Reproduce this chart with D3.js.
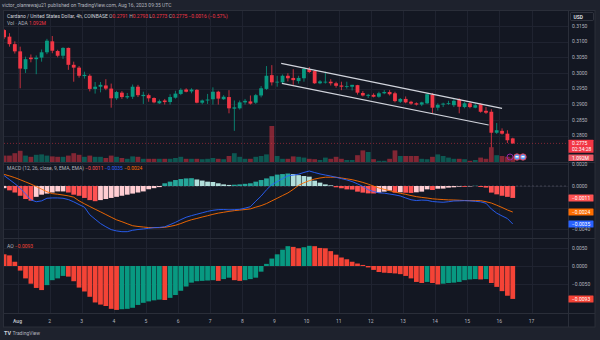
<!DOCTYPE html>
<html><head><meta charset="utf-8">
<script src="https://cdn.jsdelivr.net/npm/d3@7"></script>
<style>html,body{margin:0;background:#1e222d;overflow:hidden}svg{display:block}text{font-family:Roboto,"Liberation Sans",Arial,sans-serif}</style>
</head><body><svg id="chart" width="600" height="340"></svg>
<script>
// ---------- DATA ----------
const firstBar = "2023-07-31T12:00:00Z";
const barHours = 4;
const dayLabels = ["Aug","2","3","4","5","6","7","8","9","10","11","12","13","14","15","16","17"];
const open = [.3137,.3116,.3092,.3069,.3012,.3049,.3044,.3049,.3066,.3101,
.3070,.3055,.3080,.3026,.3017,.2990,.2991,.2949,.2956,.2960,
.2950,.2919,.2937,.2922,.2924,.2956,.2926,.2929,.2920,.2903,
.2912,.2907,.2921,.2933,.2947,.2941,.2946,.2905,.2912,.2916,
.2940,.2916,.2923,.2886,.2887,.2906,.2909,.2905,.2928,.2949,
.2993,.2970,.2970,.2991,.2984,.2974,.2983,.3012,.3006,.2967,
.2971,.2972,.2967,.2960,.2956,.2956,.2961,.2936,.2927,.2930,
.2924,.2935,.2939,.2935,.2908,.2917,.2908,.2903,.2899,.2903,
.2931,.2889,.2899,.2902,.2897,.2916,.2891,.2903,.2889,.2900,
.2879,.2876,.2809,.2815,.2806,.2791];
const high = [.3140,.3127,.3101,.3084,.3052,.3059,.3056,.3075,.3109,.3118,
.3074,.3082,.3081,.3036,.3022,.3004,.2996,.2971,.2971,.2980,
.2966,.2943,.2942,.2936,.2963,.2962,.2940,.2934,.2922,.2915,
.2917,.2932,.2943,.2951,.2951,.2951,.2948,.2915,.2933,.2954,
.2943,.2929,.2945,.2912,.2912,.2917,.2928,.2933,.2958,.3022,
.3025,.2991,.2995,.2999,.3012,.2991,.3019,.3019,.3009,.2977,
.3004,.2980,.2972,.2972,.2972,.2962,.2962,.2942,.2933,.2935,
.2940,.2945,.2945,.2940,.2920,.2925,.2911,.2906,.2908,.2935,
.2936,.2903,.2905,.2911,.2916,.2919,.2907,.2910,.2903,.2903,
.2891,.2884,.2840,.2823,.2817,.2793];
const low = [.3108,.3084,.3062,.2951,.3000,.3034,.2996,.3036,.3060,.3063,
.3050,.3045,.3010,.2972,.2985,.2982,.2941,.2934,.2938,.2945,
.2889,.2914,.2917,.2917,.2917,.2923,.2901,.2908,.2903,.2901,
.2899,.2899,.2918,.2929,.2938,.2935,.2903,.2900,.2901,.2899,
.2899,.2914,.2871,.2815,.2883,.2899,.2899,.2901,.2922,.2946,
.2960,.2956,.2967,.2973,.2962,.2966,.2972,.3000,.2965,.2964,
.2966,.2960,.2953,.2945,.2950,.2944,.2931,.2925,.2920,.2922,
.2921,.2932,.2928,.2906,.2904,.2903,.2898,.2896,.2894,.2901,
.2871,.2880,.2891,.2898,.2891,.2871,.2887,.2887,.2887,.2873,
.2869,.2762,.2805,.2803,.2776,.2773];
const close = [.3114,.3092,.3069,.3014,.3044,.3044,.3049,.3066,.3103,.3071,
.3055,.3080,.3026,.3017,.2991,.2994,.2949,.2956,.2962,.2950,
.2919,.2939,.2923,.2926,.2956,.2929,.2930,.2919,.2906,.2910,
.2907,.2923,.2934,.2946,.2940,.2947,.2905,.2912,.2915,.2940,
.2918,.2924,.2887,.2890,.2906,.2911,.2902,.2929,.2951,.2991,
.2970,.2972,.2991,.2983,.2977,.2984,.3013,.3003,.2967,.2973,
.2972,.2967,.2959,.2956,.2958,.2962,.2937,.2928,.2930,.2924,
.2935,.2939,.2932,.2910,.2917,.2906,.2902,.2899,.2906,.2932,
.2889,.2898,.2902,.2904,.2911,.2892,.2903,.2891,.2897,.2876,
.2873,.2809,.2817,.2806,.2785,.2775];
const volumeM = [1.6,1.6,2.2,2.8,1.6,1.3,1.8,1.9,1.6,1.4,
1.3,1.3,1.6,2.2,1.8,1.3,1.6,1.3,1.3,1.0,
1.6,1.3,1.0,0.8,1.4,1.3,0.8,0.8,0.8,0.8,
0.8,0.8,1.0,1.3,0.8,0.8,0.8,0.7,0.8,1.0,
0.8,0.7,1.5,2.2,1.3,0.8,0.8,1.3,1.5,1.9,
9.0,1.5,0.8,0.8,1.4,1.3,1.1,0.8,0.7,0.5,
1.1,0.8,1.3,0.8,0.5,0.5,1.7,2.9,2.5,0.7,
0.3,0.3,0.8,2.9,1.5,1.5,1.5,1.5,0.8,0.7,
1.3,1.9,1.5,1.1,0.8,0.8,0.7,0.3,0.5,1.1,
0.8,3.7,1.7,1.5,1.3,1.092];
const macdLine = [0.00096,0.00059,0.00022,-0.00020,-0.00073,-0.00128,-0.00145,-0.00137,-0.00113,-0.00110,
-0.00110,-0.00113,-0.00125,-0.00146,-0.00171,-0.00195,-0.00265,-0.00306,-0.00346,-0.00376,
-0.00402,-0.00414,-0.00421,-0.00421,-0.00408,-0.00401,-0.00396,-0.00390,-0.00384,-0.00382,
-0.00376,-0.00356,-0.00335,-0.00310,-0.00288,-0.00273,-0.00260,-0.00247,-0.00234,-0.00224,
-0.00218,-0.00217,-0.00220,-0.00218,-0.00215,-0.00204,-0.00191,-0.00140,-0.00093,-0.00035,
0.00012,0.00040,0.00068,0.00094,0.00100,0.00109,0.00125,0.00138,0.00124,0.00111,
0.00101,0.00092,0.00080,0.00068,0.00056,0.00041,0.00020,-0.00004,-0.00034,-0.00051,
-0.00063,-0.00066,-0.00074,-0.00082,-0.00092,-0.00110,-0.00127,-0.00134,-0.00130,-0.00132,
-0.00143,-0.00147,-0.00150,-0.00145,-0.00138,-0.00137,-0.00135,-0.00137,-0.00141,-0.00146,
-0.00159,-0.00212,-0.00250,-0.00276,-0.00300,-0.00350];
const signalLine = [0.00107,0.00093,0.00077,0.00058,0.00038,0.00018,-0.00005,-0.00029,-0.00053,-0.00070,
-0.00076,-0.00083,-0.00091,-0.00103,-0.00137,-0.00164,-0.00189,-0.00214,-0.00238,-0.00263,
-0.00288,-0.00312,-0.00329,-0.00348,-0.00366,-0.00373,-0.00378,-0.00383,-0.00384,-0.00384,
-0.00381,-0.00372,-0.00362,-0.00346,-0.00327,-0.00311,-0.00299,-0.00286,-0.00274,-0.00261,
-0.00250,-0.00242,-0.00234,-0.00227,-0.00222,-0.00217,-0.00211,-0.00195,-0.00181,-0.00162,
-0.00137,-0.00113,-0.00088,-0.00064,-0.00031,0.00006,0.00030,0.00049,0.00064,0.00074,
0.00081,0.00081,0.00081,0.00074,0.00066,0.00058,0.00046,0.00033,0.00017,-0.00001,
-0.00018,-0.00031,-0.00043,-0.00055,-0.00067,-0.00077,-0.00088,-0.00098,-0.00105,-0.00111,
-0.00118,-0.00122,-0.00125,-0.00128,-0.00129,-0.00131,-0.00134,-0.00135,-0.00135,-0.00135,
-0.00145,-0.00157,-0.00177,-0.00198,-0.00221,-0.00240];
const macdHist = [-0.0002,-0.0004,-0.0006,-0.0009,-0.0012,-0.00135,-0.0010,-0.0008,-0.0007,-0.0006,
-0.0005,-0.0005,-0.0006,-0.0008,-0.0009,-0.0011,-0.0013,-0.0014,-0.0013,-0.0012,
-0.0011,-0.0010,-0.0009,-0.0008,-0.0007,-0.0006,-0.0005,-0.0003,-0.0002,-0.0001,
0.00025,0.0004,0.00055,0.00064,0.0007,0.00072,0.0006,0.0005,0.0004,0.00037,
0.00025,0.00015,0.0001,0.00012,0.00015,0.0002,0.00025,0.0004,0.00055,0.0007,
0.0009,0.00105,0.0011,0.00115,0.0011,0.0010,0.00092,0.00086,0.00049,0.00031,
0.00015,0.00006,-0.00012,-0.00021,-0.00031,-0.00033,-0.00052,-0.00061,-0.00068,-0.00069,
-0.00061,-0.00052,-0.00043,-0.00061,-0.00058,-0.00062,-0.00064,-0.00058,-0.00052,-0.00031,
-0.00037,-0.00025,-0.00024,-0.00015,-0.00012,-0.00006,-0.00008,-0.00004,0.00002,-0.00009,
-0.00015,-0.00061,-0.00077,-0.00090,-0.00100,-0.0011];
const aoValues = [0.0033,0.0030,0.0012,-0.0013,-0.0035,-0.0050,-0.0062,-0.0068,-0.0054,-0.0040,
-0.0035,-0.0028,-0.0030,-0.0043,-0.0061,-0.0072,-0.0087,-0.0103,-0.0109,-0.0113,
-0.0121,-0.0124,-0.0122,-0.0121,-0.0118,-0.0110,-0.0104,-0.0100,-0.0097,-0.0095,
-0.0096,-0.0090,-0.0082,-0.0070,-0.0058,-0.0047,-0.0043,-0.0042,-0.0041,-0.0040,
-0.0042,-0.0037,-0.0033,-0.0040,-0.0042,-0.0040,-0.0037,-0.0033,-0.0016,0.0006,
0.0021,0.0033,0.0046,0.0056,0.0054,0.0050,0.0053,0.0057,0.0056,0.0051,
0.0050,0.0042,0.0032,0.0024,0.0019,0.0012,0.0007,0.0003,-0.0004,-0.0011,
-0.0017,-0.0019,-0.0020,-0.0021,-0.0023,-0.0028,-0.0035,-0.0045,-0.0048,-0.0045,
-0.0048,-0.0052,-0.0050,-0.0048,-0.0047,-0.0045,-0.0040,-0.0038,-0.0037,-0.0038,
-0.0037,-0.0048,-0.0059,-0.0071,-0.0084,-0.0093];
const priceTicks = [0.3150,0.3100,0.3050,0.3000,0.2950,0.2900,0.2850,0.2800];
const macdTicks = [0.0020,0.0000,-0.0020,-0.0040];
const aoTicks = [0.0050,0.0000,-0.0050];
const channelUpper = [["2023-08-09T05:00:00Z",0.30308],["2023-08-16T02:00:00Z",0.28871]];
const channelLower = [["2023-08-09T05:30:00Z",0.29669],["2023-08-15T16:00:00Z",0.28337]];
const lastPrice = 0.2775, lastVolLabel = "1.092M", countdown = "02:34:28";

// ---------- LAYOUT ----------
const svg = d3.select('#chart');
const L = 4, R = 568;
const pane = {main:[11,162], macd:[163,238], ao:[239,313]};
const GREEN = '#089981', RED = '#F23645';
const TXT = '#b2b5be';
const fmt = v => (v < 0 ? '\u2212' : '') + Math.abs(v).toFixed(4);

svg.append('rect').attr('width',600).attr('height',340).attr('fill','#1e222d');
svg.append('rect').attr('x',3.5).attr('y',10.5).attr('width',591.5).attr('height',316.5)
  .attr('fill','#131722').attr('stroke','#2a2e39');

const x = d3.scaleUtc()
  .domain([new Date(Date.UTC(2023,7,1)), new Date(Date.UTC(2023,7,17))])
  .range([17.5,531.5]);
const barMs = barHours*3600e3, t0 = Date.parse(firstBar);
const xs = close.map((_,i)=> x(new Date(t0 + i*barMs + barMs/2)));
const step = x(new Date(t0+barMs)) - x(new Date(t0));

const yP = d3.scaleLinear().domain([0.28,0.315]).range([135.55,26]);
const yV = d3.scaleLinear().domain([0,10]).range([162,122]);
const yM = d3.scaleLinear().domain([-0.004,0.002]).range([229.4,164.3]);
const yA = d3.scaleLinear().domain([-0.005,0.005]).range([283.7,248.3]);

const defs = svg.append('defs');
Object.entries(pane).forEach(([k,[a,b]])=>{
  defs.append('clipPath').attr('id','clip-'+k).append('rect')
    .attr('x',L).attr('y',a).attr('width',R-L).attr('height',b-a);
});

// grid
const grid = svg.append('g').attr('stroke','#1f2330').attr('stroke-width',1);
const days = d3.range(1,18).map(d=>new Date(Date.UTC(2023,7,d)));
days.forEach(d=>{
  grid.append('line').attr('x1',Math.round(x(d))+0.5).attr('x2',Math.round(x(d))+0.5).attr('y1',11).attr('y2',313);
});
const hline = (y)=> grid.append('line').attr('x1',L).attr('x2',R).attr('y1',Math.round(y)+0.5).attr('y2',Math.round(y)+0.5);
priceTicks.forEach(p=>hline(yP(p)));
macdTicks.forEach(p=>hline(yM(p)));
aoTicks.forEach(p=>hline(yA(p)));

// pane separators and axis border
const sep = svg.append('g').attr('stroke','#2a2e39').attr('stroke-width',1);
[162.5,238.5,313.5].forEach(y=>sep.append('line').attr('x1',4).attr('x2',595).attr('y1',y).attr('y2',y));
sep.append('line').attr('x1',R+0.5).attr('x2',R+0.5).attr('y1',11).attr('y2',327);

// ---------- MAIN PANE ----------
const gm = svg.append('g').attr('clip-path','url(#clip-main)');
const up = close.map((c,i)=> c >= open[i]);
gm.selectAll('rect.vol').data(volumeM).join('rect').attr('class','vol')
  .attr('x',(d,i)=>xs[i]-step/2+0.3).attr('width',step-0.6)
  .attr('y',d=>yV(d)).attr('height',d=>yV(0)-yV(d))
  .attr('fill',(d,i)=> up[i] ? 'rgba(8,153,129,0.5)' : 'rgba(242,54,69,0.5)');
gm.selectAll('line.wick').data(close).join('line').attr('class','wick')
  .attr('x1',(d,i)=>xs[i]).attr('x2',(d,i)=>xs[i])
  .attr('y1',(d,i)=>yP(high[i])).attr('y2',(d,i)=>yP(low[i]))
  .attr('stroke',(d,i)=> up[i]?GREEN:RED).attr('stroke-width',0.8);
gm.selectAll('rect.body').data(close).join('rect').attr('class','body')
  .attr('x',(d,i)=>xs[i]-1.9).attr('width',3.8)
  .attr('y',(d,i)=>yP(Math.max(open[i],d)))
  .attr('height',(d,i)=>Math.max(0.8, Math.abs(yP(open[i])-yP(d))))
  .attr('fill',(d,i)=> up[i]?GREEN:RED);
// channel
[channelUpper, channelLower].forEach(seg=>{
  gm.append('line')
    .attr('x1',x(new Date(seg[0][0]))).attr('y1',yP(seg[0][1]))
    .attr('x2',x(new Date(seg[1][0]))).attr('y2',yP(seg[1][1]))
    .attr('stroke','#d1d4dc').attr('stroke-width',1.2);
});
// last price line
gm.append('line').attr('x1',L).attr('x2',R).attr('y1',yP(lastPrice)).attr('y2',yP(lastPrice))
  .attr('stroke',RED).attr('stroke-opacity',0.7).attr('stroke-width',0.7).attr('stroke-dasharray','1,2');
// event icons
const ev = svg.append('g');
ev.append('circle').attr('cx',510).attr('cy',157).attr('r',3).attr('fill','none').attr('stroke','#9c27b0').attr('stroke-width',0.9);
[517,523].forEach(cx=>{
  ev.append('circle').attr('cx',cx).attr('cy',157).attr('r',3.2).attr('fill','#5b9cf6').attr('stroke','#f23645').attr('stroke-width',0.9);
  ev.append('rect').attr('x',cx-1.5).attr('y',156).attr('width',3).attr('height',1.5).attr('fill','#fff');
});

// ---------- MACD ----------
const gc = svg.append('g').attr('clip-path','url(#clip-macd)');
gc.append('line').attr('x1',L).attr('x2',R).attr('y1',yM(0)).attr('y2',yM(0))
  .attr('stroke','#787b86').attr('stroke-opacity',0.6).attr('stroke-dasharray','2,2').attr('stroke-width',0.7);
const histColor = (v,i)=>{
  const p = i>0 ? macdHist[i-1] : v;
  if (v >= 0) return v > p ? '#26A69A' : '#B2DFDB';
  return v < p ? '#FF5252' : '#FFCDD2';
};
gc.selectAll('rect.h').data(macdHist).join('rect').attr('class','h')
  .attr('x',(d,i)=>xs[i]-step/2+0.3).attr('width',step-0.6)
  .attr('y',d=>Math.min(yM(d),yM(0))).attr('height',d=>Math.abs(yM(d)-yM(0)))
  .attr('fill',histColor);
const lineGen = d3.line().x((d,i)=>xs[i]).y(d=>yM(d));
gc.append('path').attr('d',lineGen(signalLine)).attr('fill','none').attr('stroke','#FF6D00').attr('stroke-width',0.9);
gc.append('path').attr('d',lineGen(macdLine)).attr('fill','none').attr('stroke','#2962FF').attr('stroke-width',0.9);

// ---------- AO ----------
const ga = svg.append('g').attr('clip-path','url(#clip-ao)');
ga.selectAll('rect.ao').data(aoValues).join('rect').attr('class','ao')
  .attr('x',(d,i)=>xs[i]-step/2+0.3).attr('width',step-0.6)
  .attr('y',d=>Math.min(yA(d),yA(0))).attr('height',d=>Math.abs(yA(d)-yA(0)))
  .attr('fill',(d,i)=> (i>0 ? d > aoValues[i-1] : false) ? '#089981' : '#F44336');

// ---------- AXES ----------
const boxes = [];
const box = (yc,h,fill,lines)=>{
  boxes.push([yc-h/2, yc+h/2]);
  svg.append('rect').attr('x',568.5).attr('y',yc-h/2).attr('width',25).attr('height',h).attr('fill',fill).attr('rx',0.5);
  lines.forEach((t,j)=> svg.append('text').attr('x',572).attr('y',yc-h/2+5.2+j*5.6)
    .attr('font-size',5).attr('fill','#fff').text(t));
};
const freeAt = (y)=> boxes.every(([a,b])=> y+1.8 < a || y-1.8 > b);
const ax = svg.append('g').attr('font-size',5).attr('fill',TXT);
box(146.3,13,RED,[lastPrice.toFixed(4),countdown]);
box(157.8,6.5,'#e75864',[lastVolLabel]);
box(yM(macdHist[95]),7,'#FF5252',[fmt(macdHist[95])]);
box(yM(signalLine[95]),7,'#FF6D00',[fmt(signalLine[95])]);
box(yM(macdLine[95]),7,'#2962FF',[fmt(macdLine[95])]);
box(yA(aoValues[95]),7,'#F44336',[fmt(aoValues[95])]);
priceTicks.forEach(p=>{ if(freeAt(yP(p))) ax.append('text').attr('x',572).attr('y',yP(p)+1.8).text(p.toFixed(4)); });
macdTicks.forEach(p=>{ if(freeAt(yM(p))) ax.append('text').attr('x',572).attr('y',yM(p)+1.8).text(fmt(p)); });
aoTicks.forEach(p=>{ if(freeAt(yA(p))) ax.append('text').attr('x',572).attr('y',yA(p)+1.8).text(fmt(p)); });
days.forEach((d,i)=>ax.append('text').attr('x',x(d)).attr('y',322.5).attr('text-anchor','middle')
  .attr('font-weight', i===0?'bold':'normal').text(dayLabels[i]));
// USD
svg.append('rect').attr('x',570.5).attr('y',12.5).attr('width',23).attr('height',8).attr('rx',1)
  .attr('fill','#131722').attr('stroke','#434651').attr('stroke-width',0.6);
svg.append('text').attr('x',573.5).attr('y',18.5).attr('font-size',5).attr('font-weight','bold').attr('fill','#d1d4dc').text('USD');

// ---------- LEGENDS ----------
svg.append('text').attr('x',2).attr('y',7).attr('font-size',5).attr('fill','#b2b5be')
  .text('victor_olanrewaju21 published on TradingView.com, Aug 16, 2023 09:35 UTC');
const leg = (y, parts)=>{
  const t = svg.append('text').attr('x',7).attr('y',y).attr('font-size',5);
  parts.forEach(([s,c])=> t.append('tspan').attr('fill',c).text(s));
};
const dRed = '#F23645';
leg(17.5,[["Cardano / United States Dollar, 4h, COINBASE  ",'#d1d4dc'],
  ["O",'#b2b5be'],[open[95].toFixed(4)+" ",dRed],["H",'#b2b5be'],[high[95].toFixed(4)+" ",dRed],
  ["L",'#b2b5be'],[low[95].toFixed(4)+" ",dRed],["C",'#b2b5be'],[close[95].toFixed(4)+" ",dRed],
  ["\u22120.0016 (\u22120.57%)",dRed]]);
leg(24.5,[["Vol \u00b7 ADA  ",'#b2b5be'],[lastVolLabel,dRed]]);
leg(170,[["MACD (12, 26, close, 9, EMA, EMA)  ",'#b2b5be'],[fmt(macdHist[95])+"  ",'#FF5252'],
  [fmt(macdLine[95])+"  ",'#2962FF'],[fmt(signalLine[95]),'#FF6D00']]);
leg(247.5,[["AO  ",'#b2b5be'],[fmt(aoValues[95]),'#F44336']]);

// footer
svg.append('text').attr('x',4).attr('y',335).attr('font-size',5.5).attr('font-weight','bold').attr('fill','#d1d4dc').text('TV');
svg.append('text').attr('x',12.5).attr('y',335).attr('font-size',5).attr('fill','#b2b5be').text('TradingView');
</script></body></html>
